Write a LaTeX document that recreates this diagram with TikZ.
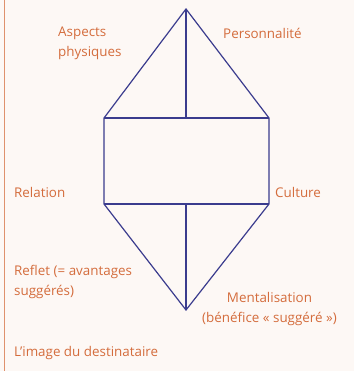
\documentclass[tikz,border=0pt]{standalone}
\usepackage{fontspec}
\setmainfont{Open Sans}
\usepackage{tikz}
\usetikzlibrary{positioning}
\definecolor{labelorange}{HTML}{D46C3C}
\definecolor{kitenavy}{HTML}{3B3C8E}
\definecolor{paper}{HTML}{FDF8F5}
\tikzset{
  edge/.style={kitenavy,line width=1.2pt},
  lbl/.style={text=labelorange,font=\fontsize{13.4}{20}\selectfont,inner sep=0pt,align=left},
  every node/.style={lbl}
}

\begin{document}
\begin{tikzpicture}[x=1pt,y=-1pt]
  \fill[paper] (0,0) rectangle (354,371);
  \useasboundingbox (0,0) rectangle (354,371);
  \draw[labelorange!75,line width=1pt] (4,0)--(4,371);
  % corners of the kite
  \coordinate (top) at (186,9);
  \coordinate (tl) at (104,118);
  \coordinate (tr) at (269,118);
  \coordinate (tm) at (186,118);
  \coordinate (bl) at (104,204);
  \coordinate (br) at (269,204);
  \coordinate (bm) at (186,204);
  \coordinate (bot) at (186,310);
  \draw[edge] (top) -- (tl) -- (bl) -- (bot) -- (br) -- (tr) -- cycle;
  \draw[edge] (tl) -- (tr);
  \draw[edge] (bl) -- (br);
  \draw[edge] (top) -- (tm);
  \draw[edge] (bm) -- (bot);
  % labels
  \node[anchor=west] (aspects) at (58,43) {Aspects\\physiques};
  \node[anchor=west] (perso) at (223,33) {Personnalité};
  \node[anchor=west] (relation) at (14,192) {Relation};
  \node[anchor=west] (culture) at (275,192) {Culture};
  \node[anchor=west] (reflet) at (14,282) {Reflet (= avantages\\suggérés)};
  \node[align=center] (mental) at (269.5,309) {Mentalisation\\(bénéfice « suggéré »)};
  \node[anchor=west] (image) at (14,353) {L’image du destinataire};
\end{tikzpicture}
\end{document}
